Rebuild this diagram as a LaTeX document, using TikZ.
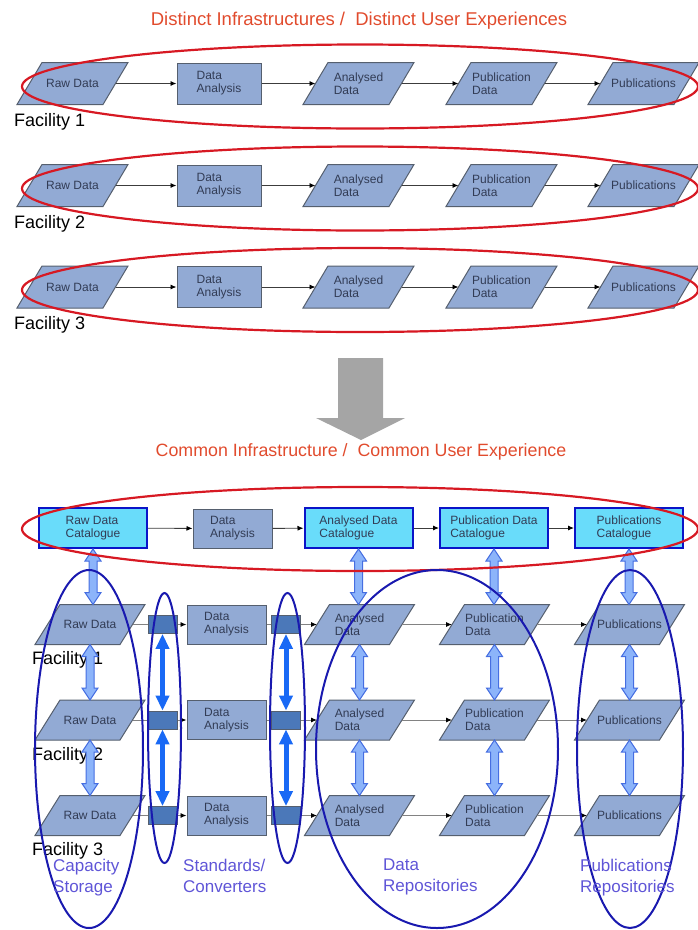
\documentclass[tikz,border=0pt]{standalone}
\usepackage{fontspec}
\setmainfont{Liberation Sans}
\usetikzlibrary{calc,arrows.meta}
\definecolor{parafill}{RGB}{146,170,212}
\definecolor{paraline}{RGB}{85,95,110}
\definecolor{nodetext}{RGB}{50,60,85}
\definecolor{catfill}{RGB}{105,220,250}
\definecolor{catline}{RGB}{10,20,200}
\definecolor{convfill}{RGB}{75,120,185}
\definecolor{convblue}{RGB}{25,105,245}
\definecolor{linkfill}{RGB}{140,180,250}
\definecolor{linkline}{RGB}{70,110,225}
\definecolor{ringred}{RGB}{215,25,35}
\definecolor{ringblue}{RGB}{25,25,175}
\definecolor{titlered}{RGB}{225,75,45}
\definecolor{groupblue}{RGB}{95,85,215}
\definecolor{bigarrow}{RGB}{165,165,165}
\definecolor{flowdark}{RGB}{60,60,60}
\definecolor{flowgray}{RGB}{130,130,130}
\tikzset{>=latex}
% parallelogram data shape, anchors of a rectangle (sides cut at mid height)
\newdimen\slanthalf
\slanthalf=12.5pt
\makeatletter
\pgfdeclareshape{dataslant}{%
  \inheritsavedanchors[from=rectangle]
  \inheritanchorborder[from=rectangle]
  \inheritanchor[from=rectangle]{center}
  \inheritanchor[from=rectangle]{north}
  \inheritanchor[from=rectangle]{south}
  \inheritanchor[from=rectangle]{east}
  \inheritanchor[from=rectangle]{west}
  \inheritanchor[from=rectangle]{base}
  \inheritanchor[from=rectangle]{mid}
  \backgroundpath{%
    \southwest \pgf@xa=\pgf@x \pgf@ya=\pgf@y
    \northeast \pgf@xb=\pgf@x \pgf@yb=\pgf@y
    \pgfpathmoveto{\pgfqpoint{\dimexpr\pgf@xa-\slanthalf\relax}{\pgf@ya}}%
    \pgfpathlineto{\pgfqpoint{\dimexpr\pgf@xb-\slanthalf\relax}{\pgf@ya}}%
    \pgfpathlineto{\pgfqpoint{\dimexpr\pgf@xb+\slanthalf\relax}{\pgf@yb}}%
    \pgfpathlineto{\pgfqpoint{\dimexpr\pgf@xa+\slanthalf\relax}{\pgf@yb}}%
    \pgfpathclose}%
}
\makeatother
% light double block arrow, #1 on top, #2 below
\newcommand{\linkarrow}[2]{%
  \draw[linkarr] let \p1=(#1), \p2=(#2) in
    (\x1,\y1) -- (\x1+8pt,\y1-12pt) -- (\x1+4pt,\y1-12pt) -- (\x1+4pt,\y2+12pt)
    -- (\x1+8pt,\y2+12pt) -- (\x1,\y2) -- (\x1-8pt,\y2+12pt) -- (\x1-4pt,\y2+12pt)
    -- (\x1-4pt,\y1-12pt) -- (\x1-8pt,\y1-12pt) -- cycle;}

\begin{document}
\begin{tikzpicture}[x=1pt, y=-1pt,
  para/.style={dataslant, draw=paraline, fill=parafill, line width=1pt,
    minimum width=85pt, minimum height=41pt, inner sep=1pt, align=left,
    text=nodetext, font=\fontsize{12}{13}\selectfont},
  paraB/.style={para, minimum width=84pt, minimum height=39pt},
  box/.style={rectangle, draw=paraline, fill=parafill, line width=1pt,
    minimum width=84pt, minimum height=41pt, align=left,
    text=nodetext, font=\fontsize{12}{13}\selectfont},
  cat/.style={rectangle, draw=catline, fill=catfill, line width=2pt,
    minimum width=108pt, minimum height=40pt, align=left,
    text=nodetext, font=\fontsize{12}{13}\selectfont},
  conv/.style={rectangle, draw=paraline, fill=convfill, line width=0.8pt,
    minimum width=29pt, minimum height=18pt, inner sep=0pt},
  flow/.style={draw=flowdark, line width=0.9pt, -{Latex[length=6pt,width=5pt,color=black]}},
  flowB/.style={flow, draw=flowgray},
  convlink/.style={draw=convblue, line width=5pt,
    {Triangle[width=13pt,length=15pt]}-{Triangle[width=13pt,length=15pt]}},
  linkarr/.style={draw=linkline, fill=linkfill, line width=1pt},
  facility/.style={anchor=base west, inner sep=0pt, font=\fontsize{18}{21}\selectfont},
  title/.style={text=titlered, inner sep=0pt, font=\fontsize{18}{21}\selectfont},
  group/.style={anchor=north west, inner sep=0pt, align=left, text=groupblue,
    font=\fontsize{17}{21}\selectfont},
  redring/.style={draw=ringred, line width=2.2pt},
  bluering/.style={draw=ringblue, line width=2pt}]
\useasboundingbox (0,0) rectangle (698,930);

% distinct facilities
\node[title, font=\fontsize{18.5}{21}\selectfont] (topTitle) at (359,21) {Distinct Infrastructures /\ \ Distinct User Experiences};
\foreach \i/\y in {1/83.5,2/185.5,3/287} {
  \node[para] (rawA\i) at (72.5,\y) {Raw Data};
  \node[box] (anaA\i) at (219,\y) {Data\\Analysis};
  \node[para] (adatA\i) at (358.5,\y) {Analysed\\Data};
  \node[para] (pdatA\i) at (501.5,\y) {Publication\\Data};
  \node[para] (pubA\i) at (643.5,\y) {Publications};
  \draw[flow] (rawA\i) -- (anaA\i);
  \draw[flow] (anaA\i) -- (adatA\i);
  \draw[flow] (adatA\i) -- (pdatA\i);
  \draw[flow] (pdatA\i) -- (pubA\i);
  \node[facility] (facA\i) at (14,\y+42.5) {Facility \i};
  \draw[redring] (360,\y+3) ellipse [x radius=338, y radius=42];
}

% transition
\draw[fill=bigarrow, draw=none] (338,358) -- (383,358) -- (383,418) -- (405,418)
  -- (361,440) -- (316,418) -- (338,418) -- cycle;
\node[title, font=\fontsize{17.8}{21}\selectfont] (botTitle) at (361,452) {Common Infrastructure /\ \ Common User Experience};

% common catalogues
\node[cat] (rawCat) at (93,528) {Raw Data\\Catalogue};
\node[box, minimum width=79pt, minimum height=39pt] (anaCat) at (232.5,528.5) {Data\\Analysis};
\node[cat] (adatCat) at (358.5,528) {Analysed Data\\Catalogue};
\node[cat] (pdatCat) at (494,528) {Publication Data\\Catalogue};
\node[cat] (pubCat) at (629,528) {Publications\\Catalogue};
\draw[flow] (rawCat) -- (anaCat);
\draw[flow] (anaCat) -- (adatCat);
\draw[flow] (adatCat) -- (pdatCat);
\draw[flow] (pdatCat) -- (pubCat);

\foreach \i/\y in {1/624.5,2/720,3/815.5} {
  \node[paraB] (rawB\i) at (90,\y) {Raw Data};
  \node[box, minimum width=79pt, minimum height=39pt] (anaB\i) at (226.5,\y) {Data\\Analysis};
  \node[paraB] (adatB\i) at (359.5,\y) {Analysed\\Data};
  \node[paraB] (pdatB\i) at (494.5,\y) {Publication\\Data};
  \node[paraB] (pubB\i) at (629.5,\y) {Publications};
  \draw[flowB] (rawB\i) -- (anaB\i);
  \draw[flowB] (anaB\i) -- (adatB\i);
  \draw[flowB] (adatB\i) -- (pdatB\i);
  \draw[flowB] (pdatB\i) -- (pubB\i);
  \node[conv] (convL\i) at (162.5,\y) {};
  \node[conv] (convR\i) at (286,\y) {};
  \node[facility] (facB\i) at (32,\y+40) {Facility \i};
}

% links between levels
\linkarrow{rawCat.south}{rawB1.north}
\linkarrow{adatCat.south}{adatB1.north}
\linkarrow{pdatCat.south}{pdatB1.north}
\linkarrow{pubCat.south}{pubB1.north}
\foreach \a/\b in {1/2,2/3} {
  \linkarrow{rawB\a.south}{rawB\b.north}
  \linkarrow{adatB\a.south}{adatB\b.north}
  \linkarrow{pdatB\a.south}{pdatB\b.north}
  \linkarrow{pubB\a.south}{pubB\b.north}
  \draw[convlink] (convL\a) -- (convL\b);
  \draw[convlink] (convR\a) -- (convR\b);
}

% groupings
\draw[redring] (360,529) ellipse [x radius=338, y radius=42];
\draw[bluering] (89,749) ellipse [x radius=54, y radius=179];
\draw[bluering] (164.5,728) ellipse [x radius=16.5, y radius=135];
\draw[bluering] (287.5,728) ellipse [x radius=17.5, y radius=135];
\draw[bluering] (437,749) ellipse [x radius=121, y radius=179];
\draw[bluering] (630,749) ellipse [x radius=53, y radius=179];
\node[group] (capLbl) at (53,859) {Capacity\\Storage};
\node[group] (stdLbl) at (183,859) {Standards/\\Converters};
\node[group] (repLbl) at (383,859) {Data\\Repositories};
\node[group] (pubLbl) at (580,859) {Publications\\Repositories};
\end{tikzpicture}
\end{document}
